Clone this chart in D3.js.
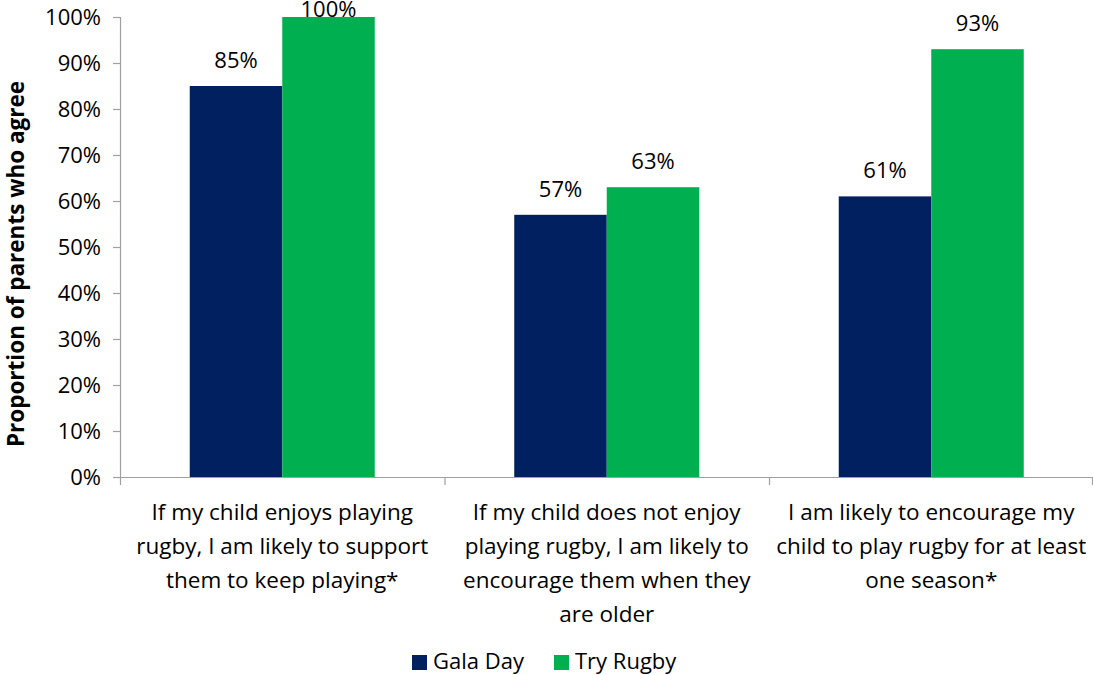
<!DOCTYPE html>
<html>
<head>
<meta charset="utf-8">
<script src="https://cdn.jsdelivr.net/npm/d3@7"></script>
<style>
  body { margin: 0; background: #fff; }
  svg { display: block; font-family: "Open Sans", sans-serif; }
</style>
</head>
<body>
<svg id="chart"></svg>
<script>
// chart data
const categories = [
  ["If my child enjoys playing", "rugby, I am likely to support", "them to keep playing*"],
  ["If my child does not enjoy", "playing rugby, I am likely to", "encourage them when they", "are older"],
  ["I am likely to encourage my", "child to play rugby for at least", "one season*"]
];
const seriesNames = ["Gala Day", "Try Rugby"];
const galaDay = [85, 57, 61];
const tryRugby = [100, 63, 93];
const yTicks = [0, 10, 20, 30, 40, 50, 60, 70, 80, 90, 100];

const colors = ["#002060", "#00B050"];
const width = 1093, height = 675;
const marginLeft = 120, marginRight = 0, marginTop = 17, plotBottom = 477;

const svg = d3.select("#chart").attr("width", width).attr("height", height);

const x0 = d3.scaleBand()
  .domain(d3.range(categories.length))
  .range([marginLeft, width - marginRight + 0.5])
  .paddingInner(0).paddingOuter(0);

const x1 = d3.scaleBand()
  .domain(seriesNames)
  .range([0, x0.bandwidth()])
  .paddingInner(0).paddingOuter(0.754);

const y = d3.scaleLinear().domain([0, 100]).range([plotBottom, marginTop]);

// y axis
const yAxis = svg.append("g")
  .attr("transform", `translate(${marginLeft},0)`)
  .call(d3.axisLeft(y).tickValues(yTicks).tickFormat(d => d + "%").tickSize(7).tickPadding(12));
yAxis.selectAll("text").attr("font-size", 22).attr("fill", "#000").attr("font-family", "'Open Sans', sans-serif");
yAxis.selectAll("line, path").attr("stroke", "#a0a0a0").attr("stroke-width", 1.2);
yAxis.select(".domain").attr("d", `M0.5,${marginTop}V${plotBottom}`);

// x axis baseline with category boundary ticks
const xg = svg.append("g");
xg.append("line")
  .attr("x1", marginLeft).attr("x2", width)
  .attr("y1", plotBottom + 0.5).attr("y2", plotBottom + 0.5)
  .attr("stroke", "#a0a0a0").attr("stroke-width", 1.2);
xg.selectAll("line.tick")
  .data(d3.range(categories.length + 1))
  .join("line")
  .attr("class", "tick")
  .attr("x1", i => i < categories.length ? x0(i) + 0.5 : width - 0.5)
  .attr("x2", i => i < categories.length ? x0(i) + 0.5 : width - 0.5)
  .attr("y1", plotBottom).attr("y2", plotBottom + 8)
  .attr("stroke", "#a0a0a0").attr("stroke-width", 1.2);

// category labels
categories.forEach((lines, i) => {
  const t = svg.append("text")
    .attr("text-anchor", "middle")
    .attr("font-size", 22.5)
    .attr("fill", "#000");
  lines.forEach((ln, j) => {
    t.append("tspan")
      .attr("x", x0(i) + x0.bandwidth() / 2)
      .attr("y", 520 + j * 34)
      .text(ln);
  });
});

// bars
const seriesValues = [galaDay, tryRugby];
const groups = svg.append("g").selectAll("g")
  .data(categories.map((c, i) => i))
  .join("g")
  .attr("transform", i => `translate(${x0(i)},0)`);

groups.selectAll("rect")
  .data(i => seriesNames.map((s, k) => ({ s, k, v: seriesValues[k][i] })))
  .join("rect")
  .attr("x", d => x1(d.s))
  .attr("y", d => y(d.v))
  .attr("width", x1.bandwidth())
  .attr("height", d => plotBottom - y(d.v))
  .attr("fill", d => colors[d.k]);

groups.selectAll("text")
  .data(i => seriesNames.map((s, k) => ({ s, k, v: seriesValues[k][i] })))
  .join("text")
  .attr("x", d => x1(d.s) + x1.bandwidth() / 2)
  .attr("y", d => Math.max(17, y(d.v) - 18))
  .attr("text-anchor", "middle")
  .attr("font-size", 22)
  .attr("fill", "#000")
  .text(d => d.v + "%");

// y axis title
svg.append("text")
  .attr("transform", `translate(24,${(marginTop + plotBottom) / 2 + 17}) rotate(-90)`)
  .attr("text-anchor", "middle")
  .attr("font-size", 22.5)
  .attr("font-weight", "bold")
  .attr("fill", "#000")
  .text("Proportion of parents who agree");

// legend
const legend = svg.append("g").attr("transform", "translate(412,655)");
const legendX = [0, 142];
seriesNames.forEach((s, k) => {
  legend.append("rect")
    .attr("x", legendX[k]).attr("y", 0)
    .attr("width", 15).attr("height", 15)
    .attr("fill", colors[k]);
  legend.append("text")
    .attr("x", legendX[k] + 21).attr("y", 14)
    .attr("font-size", 22)
    .attr("fill", "#000")
    .text(s);
});
</script>
</body>
</html>
